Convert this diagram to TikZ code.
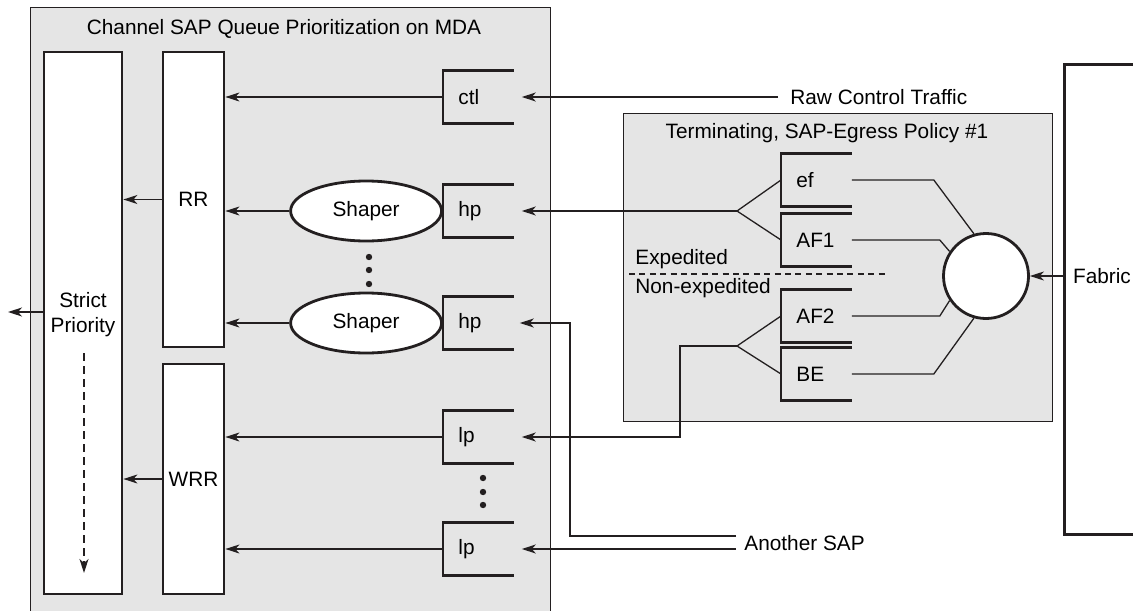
\documentclass[tikz,border=0pt]{standalone}
\usepackage{fontspec}
\setmainfont{Liberation Sans}
\usepackage{tikz}
\usetikzlibrary{arrows.meta,positioning,shapes.geometric,calc}
\definecolor{panelgray}{HTML}{E5E5E5}
\definecolor{inkblack}{HTML}{231F20}
\tikzset{
  mdabox/.style={draw=inkblack, fill=panelgray, line width=0.6pt, anchor=north west, inner sep=0pt},
  schedbox/.style={draw=inkblack, fill=white, line width=1.4pt, inner sep=0pt},
  queue/.style={anchor=west, text width=20pt, inner xsep=7.5pt, inner ysep=0pt, minimum height=26pt, align=left},
  queueline/.style={draw=inkblack, line width=1.4pt},
  shaper/.style={ellipse, draw=inkblack, fill=white, line width=1.4pt, minimum width=75.5pt, minimum height=30pt, inner sep=0pt},
  sched/.style={circle, draw=inkblack, fill=white, line width=1.4pt, minimum size=42.5pt, inner sep=0pt},
  edge/.style={-{Stealth[length=7pt, width=4.5pt, inset=2pt]}, line width=0.65pt, draw=inkblack},
  link/.style={line width=0.65pt, draw=inkblack},
  dashededge/.style={edge, dash pattern=on 4pt off 2.5pt},
  divider/.style={line width=0.65pt, draw=inkblack, dash pattern=on 3pt off 2.2pt}
}

\begin{document}
\begin{tikzpicture}[x=0.5pt, y=-0.5pt, font=\fontsize{10.4pt}{12.5pt}\selectfont]
  \useasboundingbox (0,0) rectangle (1133,610);
  % MDA side
  \node[mdabox, minimum width=260pt, minimum height=307pt] (mda) at (30,7) {};
  \node (mdatitle) at (284,29) {Channel SAP Queue Prioritization on MDA};
  \node[schedbox, minimum width=39pt, minimum height=271pt] (strict) at (83,323) {};
  \node[align=center] (strictlbl) at (83,315) {Strict\\Priority};
  \node[schedbox, minimum width=30.5pt, minimum height=147.5pt] (rr) at (193.5,199.5) {RR};
  \node[schedbox, minimum width=30.5pt, minimum height=115pt] (wrr) at (193.5,479) {WRR};
  \node[queue] (ctl) at (443,97) {ctl};
  \node[queue] (hpa) at (443,211) {hp};
  \node[queue] (hpb) at (443,323) {hp};
  \node[queue] (lpa) at (443,437) {lp};
  \node[queue] (lpb) at (443,549) {lp};
  \node[shaper, left=0pt of hpa] (shpa) {Shaper};
  \node[shaper, left=0pt of hpb] (shpb) {Shaper};
  % egress policy
  \node[mdabox, minimum width=214.5pt, minimum height=154pt] (term) at (623,113) {};
  \node (termtitle) at (827,133) {Terminating, SAP-Egress Policy \#1};
  \node[queue] (ef) at (781,180) {ef};
  \node[queue] (af1) at (781,240) {AF1};
  \node[queue] (af2) at (781,316) {AF2};
  \node[queue] (be) at (781,374) {BE};
  \node[sched] (sched) at (986,276) {};
  \node[anchor=west, inner xsep=3pt] (exp) at (629,259) {Expedited};
  \node[anchor=west, inner xsep=3pt] (nonexp) at (629,288) {Non-expedited};
  % fabric
  \node[schedbox, anchor=north west, minimum width=50pt, minimum height=235pt] (fabricbox) at (1063,63) {};
  \node[anchor=west] (fabriclbl) at (1066,276) {Fabric};
  % sources
  \node[anchor=west, inner xsep=6pt] (rawctl) at (778,97) {Raw Control Traffic};
  \node[anchor=west, inner xsep=4pt] (another) at (736,543) {Another SAP};
  \coordinate (forka) at (737,211);
  \coordinate (forkb) at (737,346);
  \coordinate (bendb) at (570,0);
  \coordinate (bendc) at (680,0);
  \coordinate (sapa) at (736,536);
  \coordinate (sapb) at (736,549);
  \coordinate (spout) at (8,312);
  \coordinate (spa) at (84,353);
  \coordinate (spb) at (84,573);
  \coordinate (expa) at (629,274);
  \coordinate (expb) at (888,274);

  \foreach \q in {ctl,hpa,hpb,lpa,lpb,ef,af1,af2,be}
    \draw[queueline] (\q.north east) -- (\q.north west) -- (\q.south west) -- (\q.south east);
  \foreach \y in {257,270,284} \fill[inkblack] (369,\y) circle (1.6pt);
  \foreach \y in {478,492,505} \fill[inkblack] (483,\y) circle (1.6pt);

  \draw[edge] (ctl.west) -- (ctl.west -| rr.east);
  \draw[edge] (shpa.west) -- (shpa.west -| rr.east);
  \draw[edge] (shpb.west) -- (shpb.west -| rr.east);
  \draw[edge] (lpa.west) -- (lpa.west -| wrr.east);
  \draw[edge] (lpb.west) -- (lpb.west -| wrr.east);
  \draw[edge] (rr.west) -- (rr.west -| strict.east);
  \draw[edge] (wrr.west) -- (wrr.west -| strict.east);
  \draw[edge] (strict.west |- spout) -- (spout);
  \draw[dashededge] (spa) -- (spb);

  \draw[edge] (rawctl.west) -- ([xshift=4pt]ctl.east);
  \draw[edge] (forka) -- ([xshift=4pt]hpa.east);
  \draw[edge] (sapa) -| (bendb |- hpb) -- ([xshift=3pt]hpb.east);
  \draw[edge] (forkb) -| (bendc |- lpa) -- ([xshift=4pt]lpa.east);
  \draw[edge] (sapb) -- ([xshift=4pt]lpb.east);

  \draw[link] (forka) -- (ef.west);
  \draw[link] (forka) -- (af1.west);
  \draw[link] (forkb) -- (af2.west);
  \draw[link] (forkb) -- (be.west);
  \draw[link] (ef.east) -- ++(82,0) -- (sched.106);
  \draw[link] (af1.east) -- ++(88,0) -- (sched.146);
  \draw[link] (af2.east) -- ++(88,0) -- (sched.214);
  \draw[link] (be.east) -- ++(82,0) -- (sched.254);
  \draw[divider] (expa) -- (expb);
  \draw[edge] (fabricbox.west |- sched) -- (sched.east);
\end{tikzpicture}
\end{document}
